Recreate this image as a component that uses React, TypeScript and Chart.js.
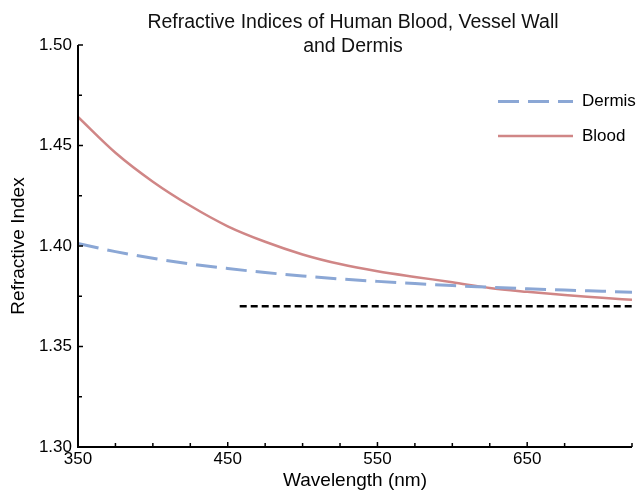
import { useEffect, useRef } from 'react';
import { Chart, registerables } from 'chart.js';

Chart.register(...registerables);

const FONT = '"Liberation Sans", Arial, Helvetica, sans-serif';

const TITLE_LINES = ['Refractive Indices of Human Blood, Vessel Wall', 'and Dermis'];
const X_TITLE = 'Wavelength (nm)';
const Y_TITLE = 'Refractive Index';

const WAVELENGTHS = [350, 375, 400, 425, 450, 475, 500, 525, 550, 575, 600, 625, 650, 675, 700, 720];
const DERMIS = [1.4013, 1.3972, 1.3939, 1.3911, 1.3888, 1.3868, 1.3851, 1.3836, 1.3824, 1.3813, 1.3803, 1.3795, 1.3787, 1.3781, 1.3775, 1.377];
const BLOOD = [1.4642, 1.4464, 1.432, 1.42, 1.4098, 1.4021, 1.3958, 1.391, 1.3874, 1.3846, 1.382, 1.3791, 1.3772, 1.3756, 1.3743, 1.3732];
const VESSEL_X = [458, 720];
const VESSEL_Y = [1.37, 1.37];

const X_TICK_LABELS = [350, 450, 550, 650];
const Y_TICK_LABELS = [1.3, 1.35, 1.4, 1.45, 1.5];

const LEGEND_LABELS = ['Dermis', 'Blood'];

const isIn = (v: number, arr: number[]) => arr.some((a) => Math.abs(a - v) < 1e-6);

const decorPlugin = {
  id: 'decor',
  afterDatasetsDraw(chart: any) {
    const { ctx, chartArea, scales } = chart;
    const { left, right, top, bottom } = chartArea;
    const xs = scales.x;
    const ys = scales.y;
    ctx.save();
    // axes
    ctx.strokeStyle = '#000';
    ctx.lineWidth = 2;
    ctx.beginPath();
    ctx.moveTo(left, top);
    ctx.lineTo(left, bottom);
    ctx.lineTo(right, bottom);
    ctx.stroke();
    // ticks (inward)
    ctx.lineWidth = 1.5;
    xs.ticks.forEach((t: any) => {
      const px = xs.getPixelForValue(t.value);
      const len = isIn(t.value, X_TICK_LABELS) ? 5 : 4;
      ctx.beginPath();
      ctx.moveTo(px, bottom);
      ctx.lineTo(px, bottom - len);
      ctx.stroke();
    });
    ys.ticks.forEach((t: any) => {
      const py = ys.getPixelForValue(t.value);
      const len = isIn(t.value, Y_TICK_LABELS) ? 5 : 4;
      ctx.beginPath();
      ctx.moveTo(left, py);
      ctx.lineTo(left + len, py);
      ctx.stroke();
    });
    // legend
    const legendY = [101.5, 136];
    LEGEND_LABELS.forEach((lab, i) => {
      const ds = chart.data.datasets.find((d: any) => d.label === lab);
      if (!ds) return;
      const y = legendY[i];
      ctx.strokeStyle = ds.borderColor;
      ctx.lineWidth = ds.borderWidth;
      ctx.setLineDash(ds.borderDash || []);
      ctx.beginPath();
      ctx.moveTo(498, y);
      ctx.lineTo(573, y);
      ctx.stroke();
      ctx.setLineDash([]);
      ctx.fillStyle = '#000';
      ctx.font = `17px ${FONT}`;
      ctx.textAlign = 'left';
      ctx.textBaseline = 'middle';
      ctx.fillText(lab, 582, y);
    });
    // title
    ctx.fillStyle = '#111';
    ctx.font = `19.5px ${FONT}`;
    ctx.textAlign = 'center';
    ctx.textBaseline = 'alphabetic';
    ctx.fillText(TITLE_LINES[0], 353, 28);
    ctx.fillText(TITLE_LINES[1], 353, 51.5);
    ctx.restore();
  },
};

export default function App() {
  const canvasRef = useRef<HTMLCanvasElement | null>(null);

  useEffect(() => {
    const canvas = canvasRef.current;
    if (!canvas) return;
    Chart.defaults.font.family = FONT;
    Chart.defaults.color = '#000';
    const chart = new Chart(canvas, {
      type: 'line',
      data: {
        datasets: [
          {
            label: 'Dermis',
            data: WAVELENGTHS.map((x, i) => ({ x, y: DERMIS[i] })),
            borderColor: '#8ba7d5',
            borderWidth: 3,
            borderDash: [21, 9],
            pointRadius: 0,
            cubicInterpolationMode: 'monotone',
            fill: false,
          },
          {
            label: 'Blood',
            data: WAVELENGTHS.map((x, i) => ({ x, y: BLOOD[i] })),
            borderColor: '#d08686',
            borderWidth: 2.5,
            pointRadius: 0,
            cubicInterpolationMode: 'monotone',
            fill: false,
          },
          {
            label: 'Vessel Wall',
            data: VESSEL_X.map((x, i) => ({ x, y: VESSEL_Y[i] })),
            borderColor: '#000',
            borderWidth: 2.5,
            borderDash: [7, 4],
            pointRadius: 0,
            fill: false,
          },
        ],
      },
      options: {
        animation: false,
        responsive: false,
        layout: { padding: { top: 45, right: 5, bottom: 0, left: 0 } },
        plugins: {
          legend: { display: false },
          title: { display: false },
          tooltip: { enabled: false },
        },
        scales: {
          x: {
            type: 'linear',
            position: 'bottom',
            min: 350,
            max: 720,
            grid: { display: false, drawTicks: false },
            border: { display: false },
            ticks: {
              stepSize: 25,
              autoSkip: false,
              maxRotation: 0,
              padding: 2,
              color: '#000',
              font: { size: 17, lineHeight: 1.2 },
              callback: (v: any) => (isIn(Number(v), X_TICK_LABELS) ? String(v) : ''),
            },
            title: {
              display: true,
              text: X_TITLE,
              color: '#000',
              font: { size: 19, lineHeight: 1 },
              padding: 0,
            },
            afterFit: (s: any) => {
              s.height = 43;
            },
          },
          y: {
            type: 'linear',
            min: 1.3,
            max: 1.5,
            grid: { display: false, drawTicks: false },
            border: { display: false },
            ticks: {
              stepSize: 0.025,
              autoSkip: false,
              padding: 6,
              color: '#000',
              font: { size: 17 },
              callback: (v: any) => (isIn(Number(v), Y_TICK_LABELS) ? Number(v).toFixed(2) : ''),
            },
            title: {
              display: true,
              text: Y_TITLE,
              color: '#000',
              font: { size: 19, lineHeight: 1 },
              padding: { top: 9, bottom: 0 },
            },
            afterFit: (s: any) => {
              s.width = 78;
            },
          },
        },
      },
      plugins: [decorPlugin],
    } as any);
    return () => chart.destroy();
  }, []);

  return (
    <div style={{ position: 'absolute', left: 0, top: 0, width: 637, height: 490, background: '#fff' }}>
      <canvas ref={canvasRef} width={637} height={490} />
    </div>
  );
}
